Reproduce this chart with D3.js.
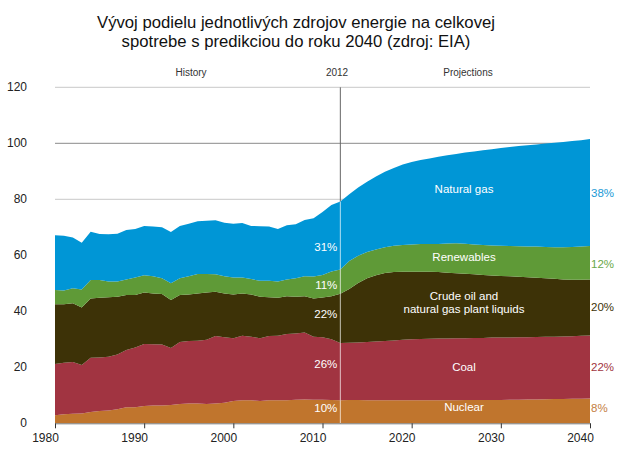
<!DOCTYPE html>
<html><head><meta charset="utf-8">
<script src="https://cdn.jsdelivr.net/npm/d3@7"></script>
<style>
html,body{margin:0;padding:0;background:#fff;}
svg{display:block;font-family:Arial,"Liberation Sans",sans-serif;}
</style></head>
<body>
<svg id="c" width="620" height="466"></svg>
<script>
const years = d3.range(1980, 2041);
const nuclear = [2.9,3.2,3.4,3.5,4.0,4.4,4.6,5.0,5.7,5.7,6.2,6.4,6.4,6.5,6.9,7.1,7.1,6.9,7.1,7.3,8.0,8.2,8.2,8.0,8.2,8.2,8.2,8.4,8.5,8.4,8.4,8.3,8.2,
  8.3,8.3,8.2,8.2,8.2,8.2,8.2,8.2,8.2,8.2,8.2,8.2,8.2,8.3,8.3,8.3,8.3,8.3,8.4,8.4,8.5,8.5,8.6,8.7,8.7,8.8,8.8,8.9];
const coal = [18.3,18.4,18.5,17.3,19.4,19.1,19.2,19.6,20.5,21.4,22.1,21.8,21.7,20.4,22.1,22.3,22.4,22.9,24.1,23.4,22.4,23.1,22.7,22.4,23.0,23.1,23.7,23.7,23.9,22.5,22.3,21.7,20.5,
  20.5,20.6,20.8,21.0,21.2,21.4,21.6,21.8,21.9,22.0,22.1,22.1,22.2,22.1,22.2,22.2,22.3,22.3,22.2,22.3,22.2,22.3,22.3,22.2,22.3,22.3,22.5,22.5];
const oil = [21.3,20.9,21.0,20.6,21.2,21.3,21.2,20.6,19.6,18.7,18.4,18.2,18.1,17.1,16.8,16.6,16.9,16.9,15.8,15.7,15.6,15.1,15.1,14.8,13.8,13.5,13.5,13.1,13.0,13.7,14.2,15.4,17.6,
  19.2,21.2,22.8,23.7,24.3,24.4,24.3,24.1,24.0,23.9,23.7,23.5,23.2,23.0,22.7,22.5,22.2,22.0,21.9,21.6,21.5,21.2,20.9,20.7,20.4,20.2,20.0,20.0];
const renewables = [5.1,4.9,5.3,6.4,6.6,6.4,5.6,5.4,5.6,6.3,6.2,6.1,5.6,6.0,6.0,6.5,6.9,6.6,6.2,6.1,6.1,5.7,5.5,5.7,5.9,5.8,6.0,6.6,7.1,7.8,8.1,8.8,8.6,
  10.0,9.7,9.4,9.2,9.2,9.4,9.6,9.8,9.9,9.9,10.0,10.4,10.7,10.7,10.7,10.7,10.7,10.8,10.8,10.9,10.9,11.1,11.2,11.3,11.5,11.7,11.8,11.9];
const naturalGas = [19.6,19.6,18.2,16.7,17.2,16.4,16.9,17.1,17.6,17.3,17.6,17.8,18.2,18.3,18.7,18.8,18.9,19.0,19.3,19.1,19.2,19.4,19.0,19.5,19.4,18.8,19.3,19.3,20.1,20.8,22.5,23.8,24.3,
  23.8,24.4,25.1,26.0,26.9,27.8,28.7,29.4,30.0,30.6,31.2,31.5,31.9,32.6,33.2,33.8,34.4,34.9,35.4,35.8,36.2,36.5,36.9,37.3,37.6,37.8,38.0,38.2];

const seriesKeys = ["nuclear","coal","oil","renewables","gas"];
const seriesNames = ["Nuclear","Coal","Crude oil and\nnatural gas plant liquids","Renewables","Natural gas"];
const share2012 = ["10%","26%","22%","11%","31%"];
const share2040 = ["8%","22%","20%","12%","38%"];
const yTicks = [0,20,40,60,80,100,120];
const xTicks = [1980,1990,2000,2010,2020,2030,2040];
const titleLines = ["Vývoj podielu jednotlivých zdrojov energie na celkovej","spotrebe s predikciou do roku 2040 (zdroj: EIA)"];
const splitYear = 2012;

const fill = {nuclear:"#c0752d",coal:"#a13441",oil:"#3d3207",renewables:"#5f9a37",gas:"#0096d6"};
const labColor = {nuclear:"#c4803f",coal:"#a13441",oil:"#3d3207",renewables:"#6aa84a",gas:"#1a9ad6"};
// label anchor heights (in axis units) for names and shares
const nameAt = {nuclear:5.8,coal:20.1,oil:43.3,renewables:59.5,gas:83.6};
const at2012 = {nuclear:5.5,coal:21.2,oil:39.0,renewables:49.4,gas:63.1};
const at2040 = {nuclear:5.5,coal:20.1,oil:41.6,renewables:57.0,gas:82.2};

const rows = years.map((y,i)=>({year:y,nuclear:nuclear[i],coal:coal[i],oil:oil[i],renewables:renewables[i],gas:naturalGas[i]}));
const stack = d3.stack().keys(seriesKeys)(rows);

const svg = d3.select("#c");
const x = d3.scaleLinear().domain([1980,2040]).range([55,590]);
const y = d3.scaleLinear().domain([0,120]).range([423.3,87.3]);

// title
svg.append("g").selectAll("text").data(titleLines).join("text")
  .attr("x",296).attr("y",(d,i)=>27.5+i*19.8).attr("text-anchor","middle")
  .attr("font-size",16.7).attr("fill","#111").text(d=>d);

// gridlines
svg.append("g").selectAll("line").data(yTicks.filter(d=>d>0)).join("line")
  .attr("x1",55).attr("x2",590).attr("y1",d=>y(d)).attr("y2",d=>y(d))
  .attr("stroke",d=>d===100?"#8a8a8a":"#c8c8c8").attr("stroke-width",1);

// 2012 line (dark, behind)
svg.append("line").attr("x1",x(splitYear)).attr("x2",x(splitYear)).attr("y1",y(120)).attr("y2",y(0))
  .attr("stroke","#666").attr("stroke-width",1);

// areas
const area = d3.area().x(d=>x(d.data.year)).y0(d=>y(d[0])).y1(d=>y(d[1]));
svg.append("g").selectAll("path").data(stack).join("path")
  .attr("d",area).attr("fill",d=>fill[d.key]);

// 2012 line over areas (light)
const top2012 = stack[stack.length-1][years.indexOf(splitYear)][1];
svg.append("line").attr("x1",x(splitYear)).attr("x2",x(splitYear)).attr("y1",y(top2012)).attr("y2",y(0))
  .attr("stroke","#fff").attr("stroke-opacity",0.7).attr("stroke-width",1);

// y axis labels
svg.append("g").selectAll("text").data(yTicks).join("text")
  .attr("x",27).attr("y",d=>y(d)+4).attr("text-anchor","end")
  .attr("font-size",12).attr("fill","#222").text(d=>d);

// x axis
const xa = svg.append("g").attr("transform",`translate(0,${y(0)})`)
  .call(d3.axisBottom(x).tickValues(xTicks).tickFormat(d3.format("d")).tickSize(5).tickSizeOuter(0));
xa.select(".domain").attr("stroke","#777");
xa.selectAll(".tick line").attr("stroke","#333");
xa.selectAll(".tick text").attr("font-size",12).attr("fill","#222").attr("font-family","Arial,'Liberation Sans',sans-serif")
  .attr("dx",-10).attr("y",10).attr("dy","0.75em");

// header labels
const hdr = [{t:"History",x:191},{t:String(splitYear),x:337},{t:"Projections",x:468}];
svg.append("g").selectAll("text").data(hdr).join("text")
  .attr("x",d=>d.x).attr("y",76).attr("text-anchor","middle")
  .attr("font-size",10).attr("fill","#333").text(d=>d.t);

// area name labels
stack.forEach((s,k)=>{
  const lines = seriesNames[k].split("\n");
  const t = svg.append("text").attr("x",464).attr("text-anchor","middle")
    .attr("font-size",11.5).attr("fill","#fff");
  lines.forEach((ln,j)=>{
    t.append("tspan").attr("x",464).attr("y",y(nameAt[s.key])+4+(j-(lines.length-1)/2)*13).text(ln);
  });
});

// 2012 shares
stack.forEach((s,k)=>{
  svg.append("text").attr("x",x(splitYear)-3).attr("y",y(at2012[s.key])+4).attr("text-anchor","end")
    .attr("font-size",11.5).attr("fill","#fff").text(share2012[k]);
});
// 2040 shares
stack.forEach((s,k)=>{
  svg.append("text").attr("x",x(2040)+1).attr("y",y(at2040[s.key])+4).attr("text-anchor","start")
    .attr("font-size",11.5).attr("fill",labColor[s.key]).text(share2040[k]);
});
</script>
</body></html>
